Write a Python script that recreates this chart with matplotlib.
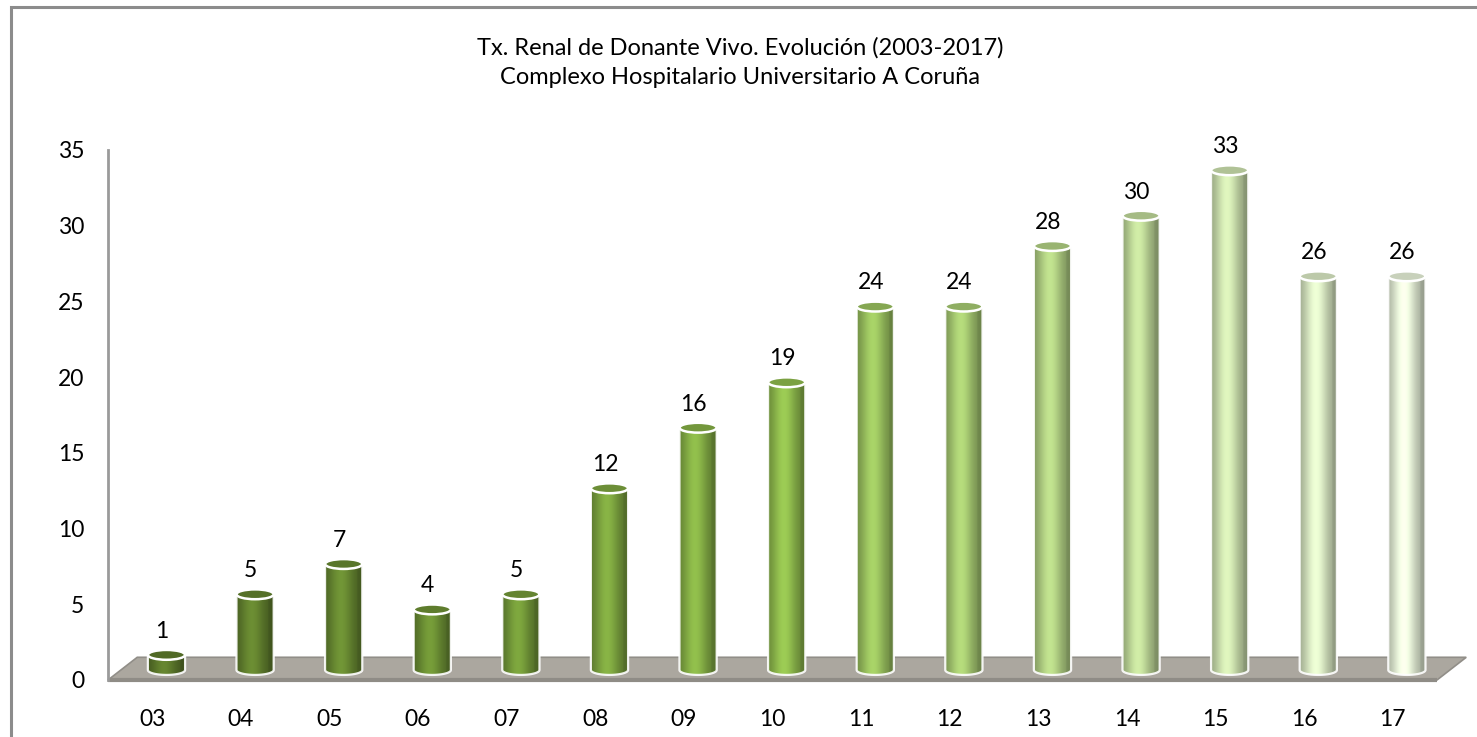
import numpy as np
import matplotlib.pyplot as plt
from matplotlib.patches import Polygon, Ellipse, Rectangle
from matplotlib.colors import LinearSegmentedColormap

# ---------------------------------------------------------------
# data
# ---------------------------------------------------------------
years = ['03', '04', '05', '06', '07', '08', '09', '10',
         '11', '12', '13', '14', '15', '16', '17']
donors = [1, 5, 7, 4, 5, 12, 16, 19, 24, 24, 28, 30, 33, 26, 26]

title_lines = ["Tx. Renal de Donante Vivo. Evolución (2003-2017)",
               "Complexo Hospitalario Universitario A Coruña"]

plt.rcParams['font.family'] = ['Lato', 'DejaVu Sans']

# green ramp, dark olive -> pale green
bar_cmap = LinearSegmentedColormap.from_list(
    'greens', ['#5c782b', '#6d9135', '#8cb74b', '#b4d08a', '#e3edd5'])

W, H = 1477, 737
fig = plt.figure(figsize=(W / 100, H / 100), dpi=100)
ax = fig.add_axes([108 / W, (H - 680) / H, (1437 - 108) / W, 530 / H])

n = len(years)
x = np.arange(n)
ax.set_xlim(-0.5, n - 0.5)
ax.set_ylim(0, 35)

# pseudo-3d depth offsets (data units)
dx_bar, dy_bar = 0.16, 0.66     # bar sits mid-depth on the floor
dx_floor, dy_floor = 0.33, 1.5  # back edge of the floor
hw = 0.21                       # bar half width
eh = 0.65                       # ellipse height

# floor
floor = Polygon([(-0.5, 0), (n - 0.5, 0),
                 (n - 0.5 + dx_floor, dy_floor), (-0.5 + dx_floor, dy_floor)],
                closed=True, facecolor='#aba79f', edgecolor='#918e88',
                lw=1.2, zorder=1, clip_on=False)
ax.add_patch(floor)
ax.plot([-0.5, n - 0.5], [0, 0], color='#8f8c86', lw=3, zorder=1.5,
        clip_on=False, solid_capstyle='butt')

# horizontal shading profile for cylinders
t = np.linspace(0, 1, 120)
shade = 0.70 + 0.42 * np.exp(-((t - 0.42) / 0.32) ** 2)
shade[t > 0.85] *= 0.92

theta = np.linspace(np.pi, 2 * np.pi, 40)

for i, v in enumerate(donors):
    cx = x[i] + dx_bar
    base = dy_bar
    top = base + v
    col = np.array(bar_cmap(i / (n - 1))[:3])
    img = np.clip(col[None, :] * shade[:, None], 0, 1)[None, :, :]

    x0, x1 = cx - hw, cx + hw
    bx = cx + hw * np.cos(theta)
    by = base + eh / 2 * np.sin(theta)
    body_pts = [(x0, top)] + list(zip(bx, by)) + [(x1, top)]
    body = Polygon(body_pts, closed=True, facecolor='none',
                   edgecolor='none', transform=ax.transData)
    ax.add_patch(body)
    im = ax.imshow(img, extent=[x0, x1, base - eh / 2, top], aspect='auto',
                   zorder=3, interpolation='bilinear')
    im.set_clip_path(body)

    # white outline
    ax.plot([x0] + list(bx) + [x1], [top] + list(by) + [top],
            color='white', lw=1.6, zorder=4, alpha=0.9)
    cap = Ellipse((cx, top), 2 * hw, eh, facecolor=np.clip(col * 0.88, 0, 1),
                  edgecolor='white', lw=1.8, zorder=5)
    ax.add_patch(cap)

    ax.annotate(str(v), (cx - 0.05, top), xytext=(0, 17),
                textcoords='offset points', ha='center', va='center',
                fontsize=16.5, color='black', zorder=6)

ax.set_xlim(-0.5, n - 0.5)
ax.set_ylim(0, 35)

ax.set_xticks(x)
ax.set_xticklabels(years)
ax.set_yticks(np.arange(0, 36, 5))
ax.tick_params(axis='both', length=0, labelsize=16.5)
ax.tick_params(axis='y', pad=17)
ax.tick_params(axis='x', pad=21)

for side in ['top', 'right', 'bottom']:
    ax.spines[side].set_visible(False)
ax.spines['left'].set_color('#9a9a9a')
ax.spines['left'].set_linewidth(2)
ax.patch.set_alpha(0)

# two title lines, baselines
for line, base_px in zip(title_lines, [55, 84]):
    fig.text(740 / W, 1 - base_px / H, line, ha='center', va='baseline',
             fontsize=17)

# outer frame of the chart area
fig.patches.append(Rectangle((11 / W, -0.1), 1.2, (H - 7) / H + 0.1,
                             transform=fig.transFigure, fill=False,
                             edgecolor='#8c8c8c', lw=2.2))

fig.savefig('out.png', dpi=100)
